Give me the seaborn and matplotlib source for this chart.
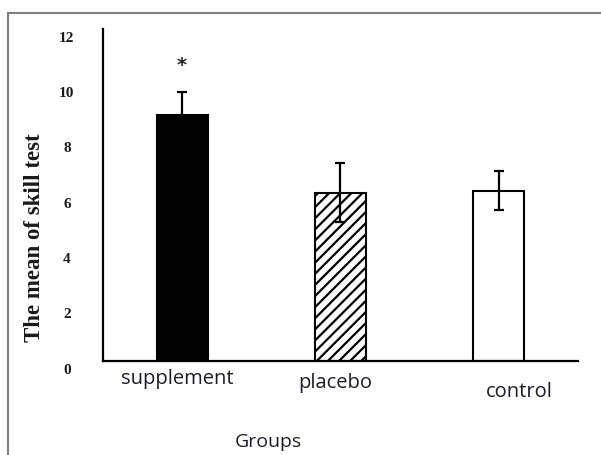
import matplotlib
matplotlib.use('Agg')
import matplotlib.pyplot as plt
import matplotlib.transforms as mtransforms
from matplotlib.patches import Rectangle
import seaborn as sns
import pandas as pd

# dados
groups = ['supplement', 'placebo', 'control']
means = [8.9, 6.08, 6.15]
errors = [0.83, 1.07, 0.70]
yticks = [0, 2, 4, 6, 8, 10, 12]

df = pd.DataFrame({'group': groups, 'mean': means, 'err': errors})

sns.set_style('white')
plt.rcParams['hatch.linewidth'] = 1.6

fig = plt.figure(figsize=(6.01, 4.56), dpi=100)
ax = fig.add_axes([0.1714, 0.2061, 0.7903, 0.7281])

# barras
sns.barplot(data=df, x='group', y='mean', hue='group', palette=['black', 'white', 'white'],
            edgecolor='black', linewidth=1.5, width=0.32, legend=False, ax=ax)
ax.patches[1].set_hatch('///')

# barras de erro
ax.errorbar(range(len(groups)), df['mean'], yerr=df['err'], fmt='none',
            ecolor='black', elinewidth=1.6, capsize=3.5, capthick=1.6)

# asterisco de significância
ax.text(0, df['mean'][0] + df['err'][0] + 0.65, '*', ha='center', va='bottom',
        fontsize=14, fontweight='bold', family='DejaVu Sans')

ax.set_xlim(-0.5, 2.5)
ax.set_ylim(0, 12)
ax.set_yticks(yticks)
ax.set_yticklabels([str(t) for t in yticks], family='Liberation Serif',
                   fontweight='bold', fontsize=11, ha='center', color='#1a1a1a')
ax.tick_params(axis='y', length=0, pad=26)
ax.tick_params(axis='x', length=0, pad=5)
ax.set_xticks(range(len(groups)))
ax.set_xticklabels(groups, family='Open Sans', fontsize=14.5, color='#1c1c2a')

# deslocando rótulos como no original
for lab in ax.get_yticklabels():
    lab.set_transform(lab.get_transform() + mtransforms.ScaledTranslation(0, -0.065, fig.dpi_scale_trans))
xoff = [(-0.05, 0.0), (-0.05, -0.04), (0.2, -0.13)]
for lab, (dx, dy) in zip(ax.get_xticklabels(), xoff):
    lab.set_transform(lab.get_transform() + mtransforms.ScaledTranslation(dx, dy, fig.dpi_scale_trans))

ax.set_xlabel('')
ax.set_ylabel('')
fig.text(0.058, 0.478, 'The mean of skill test', rotation=90, ha='center', va='center',
         family='Liberation Serif', fontweight='bold', fontsize=16.5, color='#1a1a1a')
fig.text(0.446, 0.03, 'Groups', ha='center', va='center', family='Open Sans',
         fontsize=14, color='#1c1c2a')

for side in ['top', 'right']:
    ax.spines[side].set_visible(False)
for side in ['left', 'bottom']:
    ax.spines[side].set_color('black')
    ax.spines[side].set_linewidth(1.6)

# moldura cinza
fig.patches.append(Rectangle((8 / 601, -0.05), 1.1, 1 - 14 / 456 + 0.05, transform=fig.transFigure,
                             fill=False, edgecolor='#808080', linewidth=1.5))

fig.savefig('out.png', dpi=100)
